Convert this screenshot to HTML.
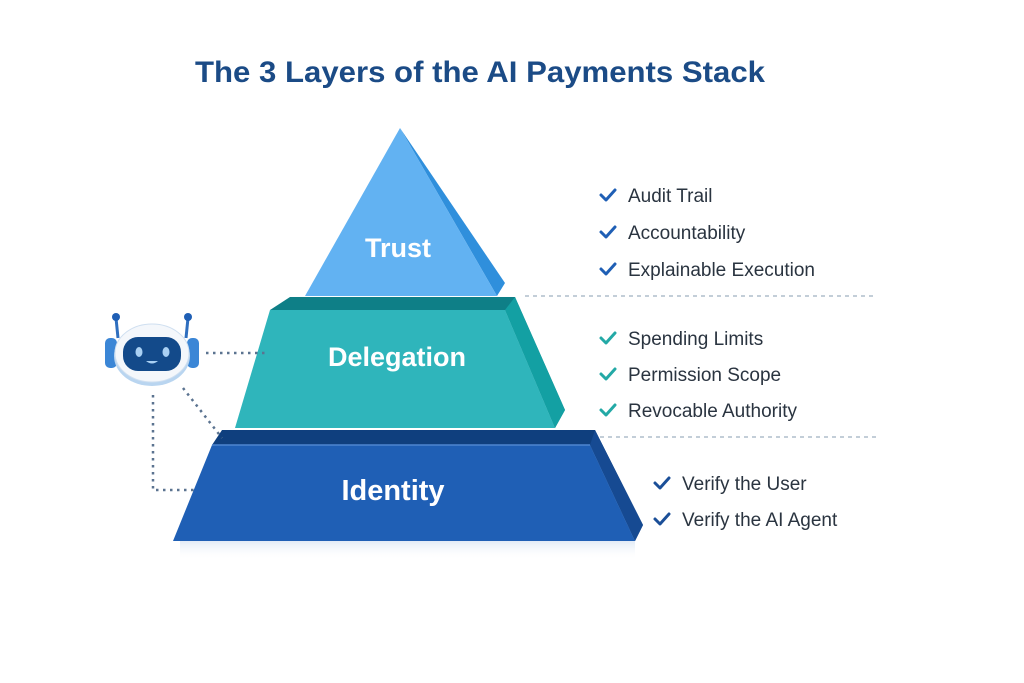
<!DOCTYPE html>
<html><head><meta charset="utf-8"><style>
html,body{margin:0;padding:0;background:#fff;}
svg{display:block;font-family:"Liberation Sans",sans-serif;}
</style></head><body>
<svg width="1024" height="683" viewBox="0 0 1024 683">
<defs>
<linearGradient id="sh" x1="0" y1="0" x2="0" y2="1"><stop offset="0" stop-color="#dfe9f5"/><stop offset="1" stop-color="#fff" stop-opacity="0"/></linearGradient>
</defs>
<rect width="1024" height="683" fill="#fff"/>
<text x="480" y="82" text-anchor="middle" font-size="30" font-weight="bold" fill="#1b4b86" textLength="570" lengthAdjust="spacingAndGlyphs">The 3 Layers of the AI Payments Stack</text>

<line x1="525" y1="296" x2="876" y2="296" stroke="#9fb0c0" stroke-width="1.2" stroke-dasharray="4,4"/>
<line x1="600" y1="437" x2="876" y2="437" stroke="#9fb0c0" stroke-width="1.2" stroke-dasharray="4,4"/>

<rect x="180" y="540" width="455" height="20" fill="url(#sh)"/>

<polygon points="222,430 595,430 643,525 635,541 590,445 212,445" fill="#0f3f7e"/>
<polygon points="595,430 643,525 635,541 590,445" fill="#164a92"/>
<polygon points="212,445 590,445 635,541 173,541" fill="#1f5fb5"/>
<line x1="212" y1="445" x2="590" y2="445" stroke="#4f86d0" stroke-width="1.5"/>
<text x="393" y="500" text-anchor="middle" font-size="29" font-weight="bold" fill="#fff">Identity</text>

<polygon points="290,297 515,297 565,410 555,428 505,310 270,310" fill="#0e7f87"/>
<polygon points="515,297 565,410 555,428 505,310" fill="#13a0a3"/>
<polygon points="270,310 505,310 555,428 235,428" fill="#2fb5bb"/>
<text x="397" y="366" text-anchor="middle" font-size="27" font-weight="bold" fill="#fff">Delegation</text>

<polygon points="400,128 505,283 497,296" fill="#2f8fdc"/>
<polygon points="400,128 497,296 305,296" fill="#62b2f2"/>
<text x="398" y="257" text-anchor="middle" font-size="27" font-weight="bold" fill="#fff">Trust</text>

<g stroke="#5b7390" stroke-width="2.5" stroke-dasharray="2.5,4.5" fill="none">
<line x1="206" y1="353" x2="268" y2="353"/>
<line x1="183" y1="388" x2="222" y2="438"/>
<polyline points="153,395 153,490 196,490"/>
</g>
<g>
<line x1="116" y1="318" x2="118" y2="338" stroke="#2f6fbf" stroke-width="3"/>
<line x1="188" y1="318" x2="186" y2="338" stroke="#2f6fbf" stroke-width="3"/>
<circle cx="116" cy="317" r="4" fill="#1f5fb5"/>
<circle cx="188" cy="317" r="4" fill="#1f5fb5"/>
<rect x="105" y="338" width="12" height="30" rx="5" fill="#3b86d6"/>
<rect x="187" y="338" width="12" height="30" rx="5" fill="#3b86d6"/>
<ellipse cx="152" cy="356" rx="38" ry="30" fill="#b9d5f0"/>
<ellipse cx="152" cy="353" rx="37" ry="29" fill="#f4f7fb" stroke="#cfdff0" stroke-width="1"/>
<rect x="123" y="337" width="58" height="34" rx="15" fill="#134a8a"/>
<ellipse cx="139" cy="352" rx="3.5" ry="5" fill="#a9d0f3"/>
<ellipse cx="166" cy="352" rx="3.5" ry="5" fill="#a9d0f3"/>
<path d="M146 361 Q152 366 158 361 Z" fill="#a9d0f3"/>
</g>

<g font-size="19" fill="#2a3440">
<text x="628" y="202">Audit Trail</text>
<text x="628" y="239">Accountability</text>
<text x="628" y="276">Explainable Execution</text>
<text x="628" y="345">Spending Limits</text>
<text x="628" y="381">Permission Scope</text>
<text x="628" y="417">Revocable Authority</text>
<text x="682" y="490">Verify the User</text>
<text x="682" y="526">Verify the AI Agent</text>
</g>
<g fill="none" stroke-width="3" stroke-linecap="round" stroke-linejoin="round">
<path d="M601 195 l5 5 l9 -10" stroke="#1f5fb5"/>
<path d="M601 232 l5 5 l9 -10" stroke="#1f5fb5"/>
<path d="M601 269 l5 5 l9 -10" stroke="#1f5fb5"/>
<path d="M601 338 l5 5 l9 -10" stroke="#23a9a6"/>
<path d="M601 374 l5 5 l9 -10" stroke="#23a9a6"/>
<path d="M601 410 l5 5 l9 -10" stroke="#23a9a6"/>
<path d="M655 483 l5 5 l9 -10" stroke="#1b4f98"/>
<path d="M655 519 l5 5 l9 -10" stroke="#1b4f98"/>
</g>
</svg>
</body></html>
